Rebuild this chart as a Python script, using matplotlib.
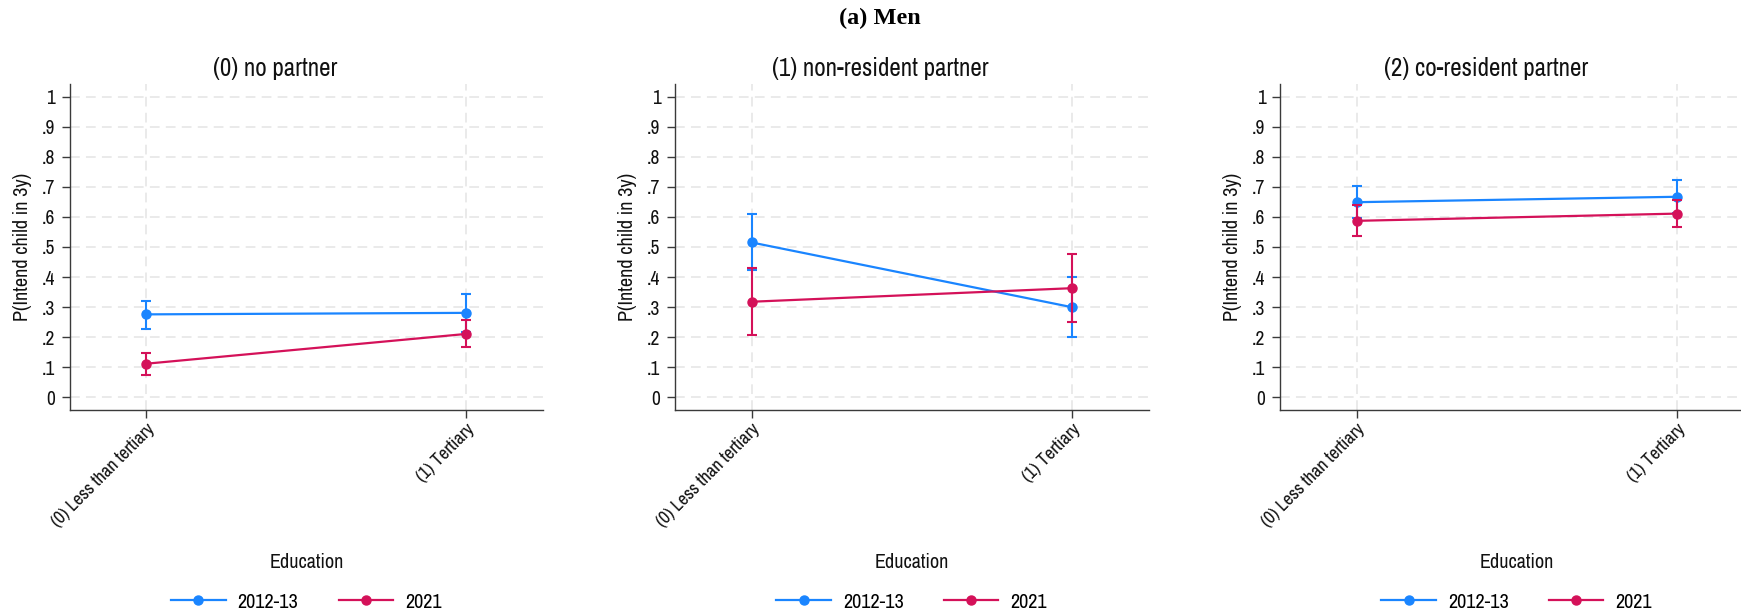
import matplotlib
matplotlib.use("Agg")
import matplotlib.pyplot as plt
from matplotlib import font_manager
import numpy as np

names = sorted({f.name for f in font_manager.fontManager.ttflist})
narrow = [n for n in names if 'Narrow' in n or 'Condensed' in n]
plt.rcParams['font.family'] = narrow + ['Liberation Sans', 'DejaVu Sans']
plt.rcParams['font.stretch'] = 'condensed'
plt.rcParams['lines.scale_dashes'] = False

# ---- data ----
suptitle = "(a) Men"
panels = ["(0) no partner", "(1) non-resident partner", "(2) co-resident partner"]
categories = ["(0) Less than tertiary", "(1) Tertiary"]
series = ["2012-13", "2021"]
colors = ["#1A85FF", "#D41159"]

est_2012 = [[0.276, 0.281], [0.515, 0.300], [0.649, 0.667]]
lo_2012 = [[0.228, 0.218], [0.422, 0.200], [0.597, 0.612]]
hi_2012 = [[0.321, 0.344], [0.609, 0.400], [0.702, 0.722]]

est_2021 = [[0.112, 0.211], [0.318, 0.363], [0.587, 0.611]]
lo_2021 = [[0.074, 0.166], [0.206, 0.250], [0.535, 0.567]]
hi_2021 = [[0.147, 0.256], [0.429, 0.476], [0.638, 0.656]]

yticks = [0, 0.1, 0.2, 0.3, 0.4, 0.5, 0.6, 0.7, 0.8, 0.9, 1.0]
ytick_labels = ["0", ".1", ".2", ".3", ".4", ".5", ".6", ".7", ".8", ".9", "1"]
ylabel = "P(Intend child in 3y)"
xlabel = "Education"

est = [est_2012, est_2021]
lo = [lo_2012, lo_2021]
hi = [hi_2012, hi_2021]

W, H = 1741, 615
fig = plt.figure(figsize=(W / 100, H / 100), dpi=100)

ax_lefts = [69.7, 675, 1280]
ax_w = 473.5
ax_top, ax_bot = 84, 410
spine_col = "#3a3a3a"
grid_col = "#E8E8E8"

x = np.arange(len(categories))

for p, title in enumerate(panels):
    ax = fig.add_axes([ax_lefts[p] / W, 1 - ax_bot / H, ax_w / W, (ax_bot - ax_top) / H])
    for s in range(len(series)):
        e = np.array(est[s][p])
        l = np.array(lo[s][p])
        h = np.array(hi[s][p])
        ax.errorbar(x, e, yerr=[e - l, h - e], fmt='none', ecolor=colors[s],
                    elinewidth=1.5, capsize=3.5, capthick=1.5, zorder=3 + s)
        ax.plot(x, e, color=colors[s], lw=1.6, marker='o', ms=6.5,
                label=series[s], zorder=3 + s)
    ax.set_xlim(-0.24, 1.24)
    ax.set_ylim(-0.042, 1.042)
    ax.set_yticks(yticks)
    ax.set_yticklabels(ytick_labels)
    ax.set_xticks(x)
    ax.set_xticklabels(categories, rotation=45, ha='right', rotation_mode='anchor')
    ax.grid(True, color=grid_col, lw=1.3, ls=(0, (7, 4.5)), zorder=0)
    ax.set_axisbelow(True)
    for side in ['top', 'right']:
        ax.spines[side].set_visible(False)
    for side in ['left', 'bottom']:
        ax.spines[side].set_color(spine_col)
        ax.spines[side].set_linewidth(1.0)
    ax.tick_params(axis='both', length=6, width=1.0, color=spine_col,
                   labelsize=14, labelcolor='#111111', pad=4.5)
    ax.tick_params(axis='x', pad=2, labelsize=13.2)
    ax.set_ylabel(ylabel, fontsize=14.5, color='#111111')
    ax.yaxis.set_label_coords(-0.080, 0.5)
    ax.text(0.5, (ax_bot - 562) / (ax_bot - ax_top), xlabel, transform=ax.transAxes,
            ha='center', va='center', fontsize=14.5, color='#111111')
    ax.legend(loc='center', bbox_to_anchor=(0.5, (ax_bot - 602) / (ax_bot - ax_top)),
              ncol=2, frameon=False, fontsize=14.5, handlelength=2.7,
              handletextpad=0.6, columnspacing=2.0, borderaxespad=0)
    cx = (ax_lefts[p] + ax_w / 2 - 31) / W
    fig.text(cx, 1 - 68 / H, title, ha='center', va='center', fontsize=18,
             color='#111111')

fig.text(880 / W, 1 - 18 / H, suptitle, ha='center', va='center', fontsize=17.5,
         fontweight='bold', family=['Liberation Serif', 'DejaVu Serif'],
         fontstretch='normal')

fig.savefig("out.png", dpi=100, facecolor='white')
